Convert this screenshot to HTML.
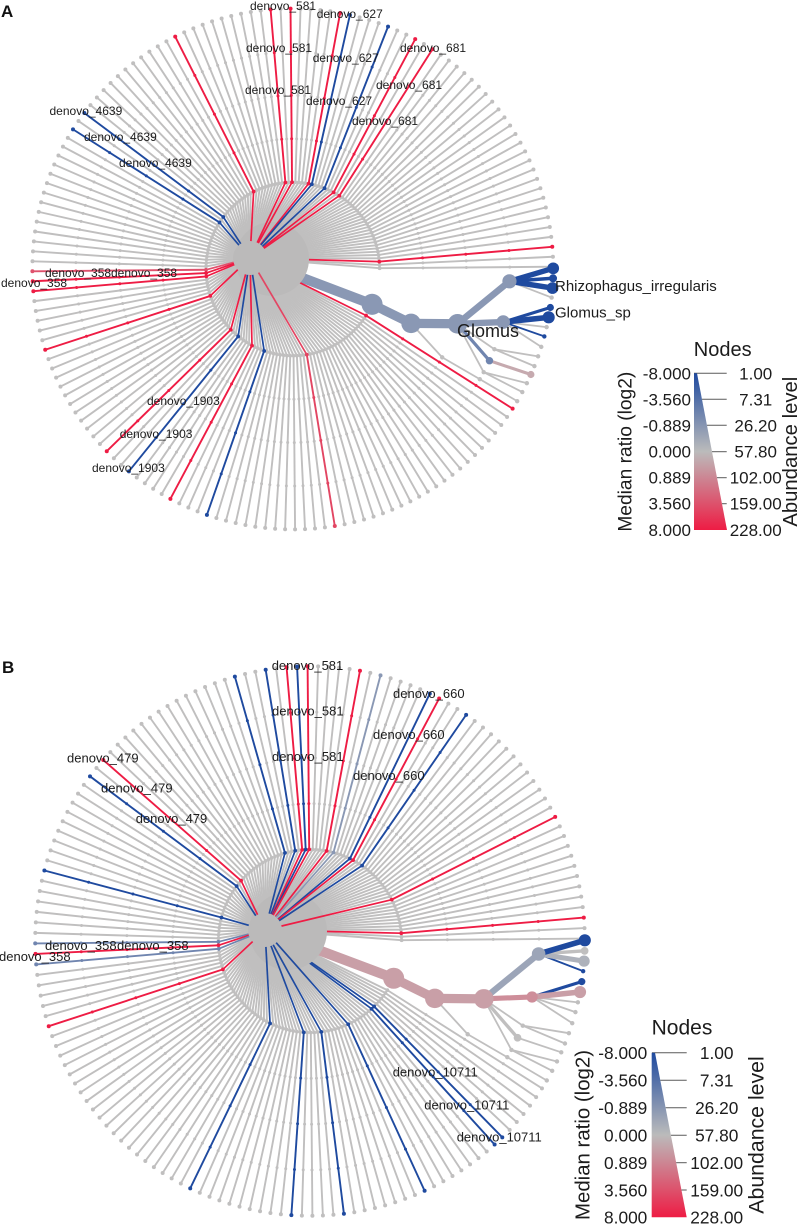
<!DOCTYPE html>
<html lang="en">
<head>
<meta charset="utf-8">
<title>Radial taxonomic trees</title>
<style>
html,body{margin:0;padding:0;background:#fff;width:799px;height:1224px;overflow:hidden}
svg{display:block}
text{font-family:"Liberation Sans",sans-serif;fill:#1c1c1c}
.a{font-size:12px}
.b{font-size:13px}
.la{font-size:17px}
.lb{font-size:17.3px}
.letter{font-size:17px;font-weight:bold;fill:#111}
</style>
</head>
<body>
<svg id="chart" xmlns="http://www.w3.org/2000/svg" width="799" height="1224" viewBox="0 0 799 1224">
<defs>
<linearGradient id="legendGrad" x1="0" y1="0" x2="0" y2="1">
<stop offset="0" stop-color="#1f4a9f"/>
<stop offset="0.5" stop-color="#bbbbbb"/>
<stop offset="1" stop-color="#ee1c44"/>
</linearGradient>
</defs>
<g id="marksA"></g>
<g id="marksB"></g>

<text class="letter" x="1" y="17">A</text>
<text class="letter" x="2" y="673">B</text>

<g>
<text class="a" x="250" y="10">denovo_581</text>
<text class="a" x="246" y="52">denovo_581</text>
<text class="a" x="245" y="94">denovo_581</text>
<text class="a" x="316.7" y="18">denovo_627</text>
<text class="a" x="312.7" y="62">denovo_627</text>
<text class="a" x="306" y="105">denovo_627</text>
<text class="a" x="400" y="52">denovo_681</text>
<text class="a" x="376" y="89">denovo_681</text>
<text class="a" x="352" y="125">denovo_681</text>
<text class="a" x="49.5" y="115">denovo_4639</text>
<text class="a" x="84" y="141">denovo_4639</text>
<text class="a" x="119" y="167">denovo_4639</text>
<text class="a" x="45" y="277">denovo_358</text>
<text class="a" x="111" y="277">denovo_358</text>
<text class="a" x="1" y="287">denovo_358</text>
<text class="a" x="147" y="405">denovo_1903</text>
<text class="a" x="119.7" y="438">denovo_1903</text>
<text class="a" x="92" y="472">denovo_1903</text>
<text x="457" y="337" font-size="18">Glomus</text>
<text x="555" y="291" font-size="15">Rhizophagus_irregularis</text>
<text x="555" y="317.5" font-size="15">Glomus_sp</text>
</g>

<g>
<text class="b" x="271.7" y="670">denovo_581</text>
<text class="b" x="272" y="715.7">denovo_581</text>
<text class="b" x="272" y="761">denovo_581</text>
<text class="b" x="393" y="698">denovo_660</text>
<text class="b" x="373" y="739">denovo_660</text>
<text class="b" x="353" y="780">denovo_660</text>
<text class="b" x="67" y="762.7">denovo_479</text>
<text class="b" x="101" y="792.7">denovo_479</text>
<text class="b" x="135.7" y="823">denovo_479</text>
<text class="b" x="45" y="950">denovo_358</text>
<text class="b" x="117" y="950">denovo_358</text>
<text class="b" x="-1" y="961">denovo_358</text>
<text class="b" x="392.7" y="1076.7">denovo_10711</text>
<text class="b" x="424.3" y="1109.3">denovo_10711</text>
<text class="b" x="456.7" y="1141.7">denovo_10711</text>
</g>

<g>
<text x="722.7" y="356" font-size="20" text-anchor="middle">Nodes</text>
<g stroke="#5a5a5a" stroke-width="1">
<line x1="694" y1="373.3" x2="726.7" y2="373.3"/>
<line x1="702" y1="399.3" x2="726.7" y2="399.3"/>
<line x1="707" y1="425.3" x2="726.7" y2="425.3"/>
<line x1="712" y1="451.7" x2="726.7" y2="451.7"/>
<line x1="717" y1="477.7" x2="726.7" y2="477.7"/>
<line x1="722" y1="503.7" x2="726.7" y2="503.7"/>
</g>
<polygon points="694,373.3 697,373.3 727,530 694,530" fill="url(#legendGrad)"/>
<g class="la" text-anchor="end">
<text x="691" y="379.3">-8.000</text>
<text x="691" y="405.3">-3.560</text>
<text x="691" y="431.3">-0.889</text>
<text x="691" y="457.7">0.000</text>
<text x="691" y="483.7">0.889</text>
<text x="691" y="509.7">3.560</text>
<text x="691" y="536">8.000</text>
</g>
<g class="la" text-anchor="middle">
<text x="755.7" y="379.3">1.00</text>
<text x="755.7" y="405.3">7.31</text>
<text x="755.7" y="431.3">26.20</text>
<text x="755.7" y="457.7">57.80</text>
<text x="755.7" y="483.7">102.00</text>
<text x="755.7" y="509.7">159.00</text>
<text x="755.7" y="536">228.00</text>
</g>
<text transform="translate(631.7 451.7) rotate(-90)" font-size="19.2" text-anchor="middle">Median ratio (log2)</text>
<text transform="translate(797 451.7) rotate(-90)" font-size="20.3" text-anchor="middle">Abundance level</text>
</g>

<g>
<text x="682" y="1034.3" font-size="21" text-anchor="middle">Nodes</text>
<g stroke="#5a5a5a" stroke-width="1">
<line x1="652" y1="1052.7" x2="686.7" y2="1052.7"/>
<line x1="660.3" y1="1080.3" x2="686.7" y2="1080.3"/>
<line x1="665.6" y1="1107.7" x2="686.7" y2="1107.7"/>
<line x1="670.9" y1="1135.3" x2="686.7" y2="1135.3"/>
<line x1="676.1" y1="1162.7" x2="686.7" y2="1162.7"/>
<line x1="681.4" y1="1190" x2="686.7" y2="1190"/>
</g>
<polygon points="651.7,1052.7 655,1052.7 686.7,1217.3 651.7,1217.3" fill="url(#legendGrad)"/>
<g class="lb" text-anchor="end">
<text x="647.3" y="1059">-8.000</text>
<text x="647.3" y="1086.6">-3.560</text>
<text x="647.3" y="1114">-0.889</text>
<text x="647.3" y="1141.6">0.000</text>
<text x="647.3" y="1169">0.889</text>
<text x="647.3" y="1196.3">3.560</text>
<text x="647.3" y="1223.6">8.000</text>
</g>
<g class="lb" text-anchor="middle">
<text x="716.7" y="1059">1.00</text>
<text x="716.7" y="1086.6">7.31</text>
<text x="716.7" y="1114">26.20</text>
<text x="716.7" y="1141.6">57.80</text>
<text x="716.7" y="1169">102.00</text>
<text x="716.7" y="1196.3">159.00</text>
<text x="716.7" y="1223.6">228.00</text>
</g>
<text transform="translate(589.3 1135) rotate(-90)" font-size="20.4" text-anchor="middle">Median ratio (log2)</text>
<text transform="translate(763.3 1135) rotate(-90)" font-size="21.3" text-anchor="middle">Abundance level</text>
</g>
</svg>
<script>
/* ---- legend scale ticks ---- */
const ratioTicks = [-8, -3.56, -0.889, 0, 0.889, 3.56, 8];
const abundanceTicks = [1, 7.31, 26.2, 57.8, 102, 159, 228];

/* ---- shared tree: leaves around the circle ---- */
const leafCount = 164;
const firstLeafAngle = -0.5;
const ringLevels = [2, 3, 4, 5, 6];

/* ---- shared Glomeromycota clade: tree depth, polar angle (deg), parent index ---- */
const cladeLevels = [2, 3, 4, 5, 5, 5, 5, 5, 4, 5, 6, 6, 6, 6, 6, 6, 6, 6, 6, 6, 6, 6, 6, 6, 6];
const cladeAngles = [24, 24.7, 18.4, 3.25, 14.15, 21.7, 25, 28.4, 30.6, 30.5, -0.15, 2.05, 4.2, 6.3, 8.5, 10.7, 12.9, 15, 17.4, 19.6, 21.9, 23.9, 26, 28.2, 30.5];
const cladeParents = [-1, 0, 1, 2, 2, 2, 2, 2, 1, 8, 3, 3, 3, 3, 4, 4, 4, 4, 4, 5, 5, 6, 7, 7, 9];

/* ---- panel A values ---- */
const panelACladeRatios = [-0.889, -0.889, -0.889, -0.889, -0.889, 0, -2.2, 0, 0, 0, -8, -8, -8, 0, -8, -8, 0, -8, 0, 0, 0, 0.35, 0, 0, 0];
const panelACladeAbundance = [228, 190, 190, 80, 70, 1, 8, 1, 1, 1, 45, 12, 45, 1, 7, 50, 1, 1, 1, 1, 1, 7, 1, 1, 1];
const panelALeafAngles = [243.6, 265.5, 269.8, 280.8, 282.9, 291.7, 298, 302.5, 217.3, 212.9, 180, 177.8, 175.6, 162.4, 136.2, 129.2, 118.3, 109.6, 80.8, 32.6, 355];
const panelALeafRatios = [8, 8, 8, 8, -8, -8, 8, 8, -8, -8, 3.56, 8, 8, 8, 8, -8, 8, -8, 4.6, 8, 8];

/* ---- panel B values ---- */
const panelBCladeRatios = [0.53, 0.53, 0.53, -0.6, 0.8, 0, 0, 0, 0, 0, -8, 0, -0.3, -8, -8, 0.53, 0, 0, 0, 0, 0, 0, 0, 0, 0];
const panelBCladeAbundance = [228, 190, 190, 70, 40, 1, 10, 1, 1, 1, 50, 10, 40, 1, 7, 50, 1, 1, 1, 1, 1, 1, 1, 1, 1];
const panelBLeafAngles = [254.3, 260.8, 265.3, 267.4, 269.7, 280.5, 284.9, 296.1, 298, 304.6, 333, 355.2, 221.3, 217, 195.1, 179.7, 177.6, 175.4, 162.2, 116.3, 94.3, 83.4, 65.9, 46.3, 48.4];
const panelBLeafRatios = [-8, -8, 8, -8, 8, 8, -0.889, -8, 8, -8, 8, 8, 8, -8, -8, -2.2, 8, -2.2, 8, -8, -8, -8, -8, -8, -8];

/* ---- scales ---- */
const NS = 'http://www.w3.org/2000/svg';
const GREY = '#c0bfbf';
function tickPosition(value, ticks) {
  if (value <= ticks[0]) return 0;
  for (let i = 1; i < ticks.length; i++) {
    if (value <= ticks[i]) return i - 1 + (value - ticks[i - 1]) / (ticks[i] - ticks[i - 1]);
  }
  return ticks.length - 1;
}
function ratioColor(ratio) {
  const t = tickPosition(ratio, ratioTicks);
  const mix = (a, b, f) => Math.round(a + (b - a) * f);
  const blue = [31, 74, 159], grey = [192, 191, 191], red = [238, 28, 68];
  const from = t < 3 ? blue : grey, to = t < 3 ? grey : red, f = t < 3 ? t / 3 : (t - 3) / 3;
  return 'rgb(' + mix(from[0], to[0], f) + ',' + mix(from[1], to[1], f) + ',' + mix(from[2], to[2], f) + ')';
}
function abundanceWidth(value) { return 1.8 + 1.37 * tickPosition(value, abundanceTicks); }
function xAt(p, angle, level) { return p.cx + level * p.unit * Math.cos(angle * Math.PI / 180); }
function yAt(p, angle, level) { return p.cy + level * p.unit * Math.sin(angle * Math.PI / 180); }
function leafIndex(angle) { return Math.round((((angle - firstLeafAngle) % 360 + 360) % 360) / (360 / leafCount)) % leafCount; }
function leafAngle(i) { return firstLeafAngle + i * 360 / leafCount; }

function addLine(parent, x1, y1, x2, y2, color, width) {
  const el = document.createElementNS(NS, 'line');
  el.setAttribute('x1', x1.toFixed(2));
  el.setAttribute('y1', y1.toFixed(2));
  el.setAttribute('x2', x2.toFixed(2));
  el.setAttribute('y2', y2.toFixed(2));
  el.setAttribute('stroke', color);
  el.setAttribute('stroke-width', width);
  parent.appendChild(el);
  return el;
}
function addDot(parent, x, y, r, color) {
  const el = document.createElementNS(NS, 'circle');
  el.setAttribute('cx', x.toFixed(2));
  el.setAttribute('cy', y.toFixed(2));
  el.setAttribute('r', r);
  el.setAttribute('fill', color);
  parent.appendChild(el);
  return el;
}

function drawLeaf(p, parent, angle, color, toRoot) {
  if (toRoot) {
    const stem = addLine(parent, p.rootX, p.rootY, xAt(p, angle, 2), yAt(p, angle, 2), color, color === GREY ? 1.9 : 1.7);
    
    
  }
  const outer = addLine(parent, xAt(p, angle, 2), yAt(p, angle, 2), xAt(p, angle, 6), yAt(p, angle, 6), color, 1.9);
  
  
  ringLevels.forEach(function (level) {
    const dot = addDot(parent, xAt(p, angle, level), yAt(p, angle, level), level === 6 ? 2 : (level === 2 ? 1.9 : 1.5), color);
    
    
  });
}

function drawPanel(p) {
  const g = document.getElementById(p.group);
  const coloured = new Map();
  p.leafAngles.forEach(function (a, k) { coloured.set(leafIndex(a), p.leafRatios[k]); });

  for (let i = 0; i < leafCount; i++) {
    if (i >= 1 && i <= 14) continue;
    if (coloured.has(i)) continue;
    drawLeaf(p, g, leafAngle(i), GREY, true);
  }

  /* clade edges, thinnest first, then nodes */
  const order = cladeLevels.map(function (_, i) { return i; })
    .sort(function (a, b) { return p.cladeAbundance[a] - p.cladeAbundance[b]; });
  order.forEach(function (i) {
    const par = cladeParents[i];
    const x0 = par < 0 ? p.rootX : xAt(p, cladeAngles[par], cladeLevels[par]);
    const y0 = par < 0 ? p.rootY : yAt(p, cladeAngles[par], cladeLevels[par]);
    const edge = addLine(g, x0, y0, xAt(p, cladeAngles[i], cladeLevels[i]), yAt(p, cladeAngles[i], cladeLevels[i]), ratioColor(p.cladeRatios[i]), abundanceWidth(p.cladeAbundance[i]));
    
    
  });
  order.forEach(function (i) {
    const w = abundanceWidth(p.cladeAbundance[i]);
    const node = addDot(g, xAt(p, cladeAngles[i], cladeLevels[i]), yAt(p, cladeAngles[i], cladeLevels[i]), w <= 2 ? 2.2 : w + 0.5, ratioColor(p.cladeRatios[i]));
    
    
  });

  /* coloured leaves that pass under the central mass */
  coloured.forEach(function (ratio, i) {
    const a = ((leafAngle(i) % 360) + 360) % 360;
    if (a < 50 || a > 350) drawLeaf(p, g, a, ratioColor(ratio), true);
  });

  const hub = addDot(g, p.hubX, p.hubY, p.hubR, '#bbbaba');
  
  

  coloured.forEach(function (ratio, i) {
    const a = ((leafAngle(i) % 360) + 360) % 360;
    if (!(a < 50 || a > 350)) drawLeaf(p, g, a, ratioColor(ratio), true);
  });

  const root = addDot(g, p.rootX, p.rootY, 17, '#bbbaba');
  
  
}

drawPanel({
  group: 'marksA', cx: 292.8, cy: 269, unit: 43.4,
  rootX: 250, rootY: 258, hubX: 272, hubY: 259, hubR: 37,
  leafAngles: panelALeafAngles, leafRatios: panelALeafRatios,
  cladeRatios: panelACladeRatios, cladeAbundance: panelACladeAbundance
});
drawPanel({
  group: 'marksB', cx: 310, cy: 941, unit: 45.8,
  rootX: 265, rootY: 930, hubX: 288, hubY: 931, hubR: 39,
  leafAngles: panelBLeafAngles, leafRatios: panelBLeafRatios,
  cladeRatios: panelBCladeRatios, cladeAbundance: panelBCladeAbundance
});
</script>
</body>
</html>
